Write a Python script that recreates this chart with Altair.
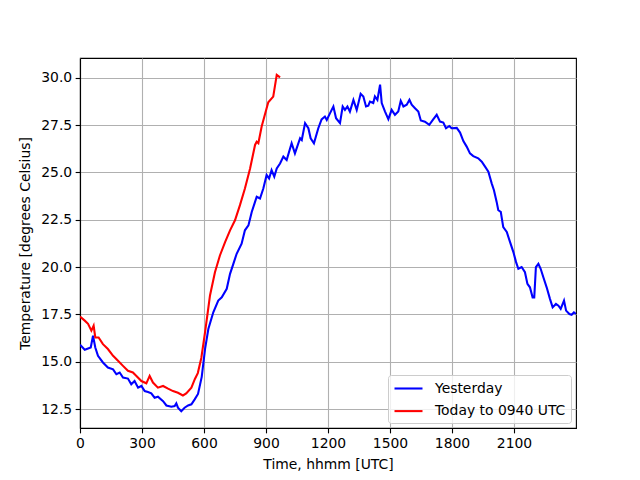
import altair as alt
import pandas as pd

# Yesterday (blue)
yest_x = [0, 23, 39, 52, 63, 74, 87, 111, 135, 160, 176, 192, 208, 232, 248, 264, 281, 297, 313, 329,
          345, 361, 377, 402, 418, 442, 458, 466, 474, 490, 506, 523, 539, 555, 571, 589, 605, 621, 645, 669,
          686, 710, 726, 742, 758, 782, 798, 815, 831, 855, 871, 887, 903, 915, 927, 940, 952, 968, 984, 1000,
          1024, 1040, 1065, 1073, 1089, 1105, 1116, 1132, 1153, 1169, 1185, 1194, 1210, 1226, 1239, 1258, 1271, 1282, 1294, 1306,
          1323, 1339, 1358, 1371, 1384, 1395, 1403, 1419, 1427, 1439, 1452, 1460, 1476, 1492, 1508, 1524, 1540, 1552, 1565, 1581,
          1594, 1605, 1621, 1637, 1649, 1669, 1690, 1710, 1726, 1742, 1758, 1771, 1787, 1798, 1823, 1839, 1855, 1871, 1887, 1903,
          1927, 1944, 1960, 1976, 1992, 2003, 2016, 2024, 2036, 2048, 2065, 2081, 2097, 2110, 2121, 2137, 2153, 2165, 2177, 2190,
          2198, 2206, 2218, 2229, 2242, 2258, 2274, 2287, 2303, 2315, 2326, 2342, 2352, 2368, 2379, 2390, 2400]
yest_t = [15.9, 15.63, 15.7, 15.75, 16.37, 15.75, 15.31, 14.96, 14.69, 14.6, 14.34, 14.43, 14.16, 14.11, 13.81, 13.98, 13.63, 13.72, 13.45, 13.4,
          13.33, 13.1, 13.15, 12.92, 12.69, 12.62, 12.66, 12.8, 12.57, 12.39, 12.57, 12.69, 12.75, 13.01, 13.3, 14.2, 15.67, 16.73, 17.61, 18.23,
          18.4, 18.85, 19.64, 20.17, 20.7, 21.23, 21.94, 22.2, 22.91, 23.71, 23.62, 24.15, 24.86, 24.68, 25.12, 24.77, 25.21, 25.47, 25.83, 25.65,
          26.54, 26.0, 26.8, 26.71, 27.6, 27.33, 26.8, 26.54, 27.33, 27.8, 27.95, 27.77, 28.13, 28.48, 27.86, 27.6, 28.48, 28.3, 28.48, 28.21,
          28.83, 28.3, 29.15, 29.01, 28.48, 28.52, 28.74, 28.66, 29.01, 28.83, 29.63, 28.66, 28.21, 27.81, 28.3, 28.04, 28.21, 28.78, 28.48, 28.57,
          28.83, 28.57, 28.39, 28.21, 27.74, 27.68, 27.51, 27.81, 28.04, 27.68, 27.63, 27.33, 27.45, 27.33, 27.35, 27.1, 26.65, 26.36, 26.0, 25.86,
          25.74, 25.56, 25.3, 25.03, 24.42, 24.06, 23.44, 23.0, 22.91, 22.11, 21.85, 21.32, 20.79, 20.26, 19.91, 20.0, 19.73, 19.11, 18.93, 18.4,
          18.4, 20.0, 20.17, 19.91, 19.46, 18.93, 18.32, 17.87, 18.05, 17.96, 17.79, 18.23, 17.7, 17.52, 17.48, 17.61, 17.52]

# Today to 0940 UTC (red)
today_x = [0, 23, 39, 55, 66, 74, 90, 111, 135, 160, 184, 208, 232, 256, 273, 297, 321, 337, 353, 377,
           402, 426, 450, 474, 498, 514, 539, 556, 570, 587, 605, 618, 629, 653, 677, 702, 726, 750, 774, 798,
           823, 847, 855, 863, 879, 903, 911, 935, 952, 968]
today_t = [17.38, 17.17, 17.0, 16.64, 16.9, 16.28, 16.28, 15.93, 15.67, 15.31, 15.05, 14.78, 14.52, 14.43, 14.25, 13.98, 13.86, 14.25, 13.9, 13.63,
           13.72, 13.58, 13.45, 13.36, 13.22, 13.33, 13.63, 14.09, 14.4, 15.2, 16.55, 17.6, 18.5, 19.73, 20.61, 21.32, 21.94, 22.47, 23.27, 24.15,
           25.21, 26.45, 26.62, 26.54, 27.42, 28.39, 28.7, 29.0, 30.15, 30.02]

series_names = ["Yesterday", "Today to 0940 UTC"]
series_colors = ["#0000ff", "#ff0000"]
x_ticks = [0, 300, 600, 900, 1200, 1500, 1800, 2100]
y_ticks = [12.5, 15.0, 17.5, 20.0, 22.5, 25.0, 27.5, 30.0]

df = pd.concat([
    pd.DataFrame({"x": yest_x, "t": yest_t, "series": series_names[0], "ord": 0}),
    pd.DataFrame({"x": today_x, "t": today_t, "series": series_names[1], "ord": 1}),
])

FONT = "DejaVu Sans"
FS = 13.9
LW = 2.08

chart = alt.Chart(df).mark_line(strokeWidth=LW, clip=True).encode(
    x=alt.X("x:Q", scale=alt.Scale(domain=[0, 2400], nice=False, zero=False),
            axis=alt.Axis(values=x_ticks, title="Time, hhmm [UTC]", format="d",
                          labelFlush=False, titlePadding=7)),
    y=alt.Y("t:Q", scale=alt.Scale(domain=[11.5, 31.04], nice=False, zero=False),
            axis=alt.Axis(values=y_ticks, title="Temperature [degrees Celsius]", format=".1f",
                          labelFlush=False, titlePadding=8)),
    color=alt.Color("series:N", scale=alt.Scale(domain=series_names, range=series_colors),
                    legend=alt.Legend(title=None, orient="none", legendX=308, legendY=317,
                                      symbolType="M-2,0H2", symbolSize=196, symbolStrokeWidth=LW,
                                      symbolFillColor="transparent", symbolOffset=7,
                                      labelFont=FONT, labelFontSize=FS, labelColor="black",
                                      labelOffset=18, rowPadding=6.6, padding=5,
                                      strokeColor="#cccccc", fillColor="rgba(255,255,255,0.8)",
                                      cornerRadius=3, labelLimit=300)),
    order=alt.Order("ord:Q"),
).properties(
    width=496, height=370,
    autosize=alt.AutoSizeParams(type="none"),
    padding={"left": 72, "top": 50, "right": 50, "bottom": 43},
).configure_view(
    stroke="black", strokeWidth=1.11
).configure_axis(
    grid=True, gridColor="#b0b0b0", gridWidth=1.11,
    domainColor="black", domainWidth=1.11,
    tickColor="black", tickSize=4.86, tickWidth=1.11,
    labelFont=FONT, labelFontSize=FS, labelColor="black", labelPadding=3.5,
    titleFont=FONT, titleFontSize=FS, titleFontWeight="normal", titleColor="black",
)

chart.save("out.html", embed_options={"renderer": "svg", "actions": False})
